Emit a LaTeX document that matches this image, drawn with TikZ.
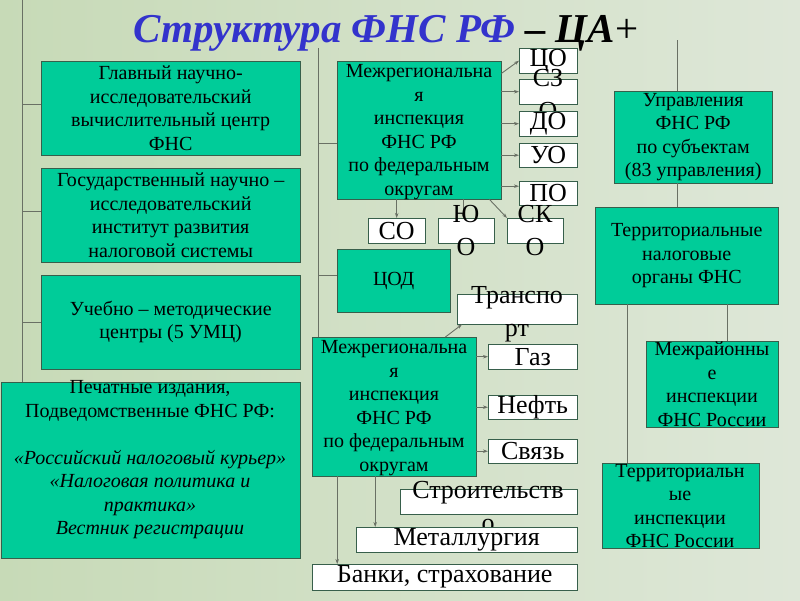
\documentclass[tikz,border=0pt]{standalone}
\usepackage{fontspec}
\setmainfont{Liberation Serif}
\usepackage{tikz}
\usepackage{xcolor}
\usetikzlibrary{arrows.meta,positioning}
\definecolor{bgleft}{RGB}{199,218,183}
\definecolor{bgright}{RGB}{222,231,216}
\definecolor{boxfill}{RGB}{0,204,153}
\definecolor{boxedge}{RGB}{55,95,75}
\definecolor{wire}{RGB}{105,112,100}
\definecolor{titleblue}{RGB}{51,51,204}

\tikzset{
  tbox/.style={draw=boxedge, fill=boxfill, inner sep=0pt, anchor=north west, align=center,
    font=\fontsize{20}{23.5}\selectfont},
  wbox/.style={draw=boxedge, fill=white, inner sep=0pt, anchor=north west,
    font=\fontsize{26}{33}\selectfont},
  ttext/.style={inner sep=0pt, align=center, font=\fontsize{20}{23.5}\selectfont},
  wtext/.style={inner sep=0pt, align=center, font=\fontsize{26}{33}\selectfont},
  link/.style={draw=wire, line width=0.9pt},
  arr/.style={link, -{Stealth[length=5pt,width=3.5pt]}},
}

\begin{document}
\begin{tikzpicture}[x=1pt,y=-1pt]
\shade[left color=bgleft, right color=bgright] (0,0) rectangle (800,600);
\useasboundingbox (0,0) rectangle (800,600);

% title
\node[font=\fontsize{41}{45}\selectfont\bfseries\itshape] (title) at (386,33)
  {\textcolor{titleblue}{Структура ФНС РФ} -- ЦА{\mdseries\upshape+}};

% trunks
\coordinate (ltop) at (22,0);
\coordinate (mtop) at (318,48);
\coordinate (rtop) at (677,40);

% left column
\node[tbox, minimum width=259pt, minimum height=94pt] (glav) at (41,61)
  {Главный научно-\\исследовательский\\вычислительный центр\\ФНС};
\node[tbox, minimum width=259pt, minimum height=94pt] (gosn) at (41,168)
  {Государственный научно --\\исследовательский\\институт развития\\налоговой системы};
\node[tbox, minimum width=259pt, minimum height=94pt] (umc) at (41,275)
  {Учебно -- методические\\центры (5 УМЦ)};
\node[tbox, minimum width=299pt, minimum height=176pt] (pech) at (1,382) {};
\node[ttext] (pecht) at (150,460)
  {Печатные издания,\\Подведомственные ФНС РФ:\\[23.5pt]
   \itshape «Российский налоговый курьер»\\\itshape «Налоговая политика и\\\itshape практика»\\\itshape Вестник регистрации};

\draw[link] (ltop) -- (ltop |- pech.north);
\draw[link] ([yshift=4pt]glav.west -| ltop) -- ([yshift=4pt]glav.west);
\draw[link] ([yshift=4pt]gosn.west -| ltop) -- ([yshift=4pt]gosn.west);
\draw[link] (umc.west -| ltop) -- (umc.west);

% middle column, first inspection
\node[tbox, minimum width=164pt, minimum height=138pt] (mri1) at (337,61) {};
\node[ttext] (mri1t) at (419,132)
  {Межрегиональна\\я\\инспекция\\ФНС РФ\\по федеральным\\округам};
\node[wbox, minimum width=58pt, minimum height=25pt] (co) at (519,48) {ЦО};
\node[wbox, minimum width=58pt, minimum height=25pt] (szo) at (519,79) {};
\node[wtext] (szot) at (548,95) {СЗ\\О};
\node[wbox, minimum width=58pt, minimum height=25pt] (do) at (519,111) {ДО};
\node[wbox, minimum width=58pt, minimum height=24pt] (uo) at (519,143) {УО};
\node[wbox, minimum width=58pt, minimum height=24pt] (po) at (519,181) {ПО};
\node[wbox, minimum width=57pt, minimum height=25pt] (so) at (368,218) {СО};
\node[wbox, minimum width=56pt, minimum height=25pt] (yuo) at (438,218) {};
\node[wbox, minimum width=56pt, minimum height=25pt] (sko) at (507,218) {};

\draw[link] (mtop) -- (mtop |- 0,337);
\draw[link] ([yshift=-13pt]mri1.west -| mtop) -- ([yshift=-13pt]mri1.west);
\draw[arr] (mri1.east |- co.south) -- (co.west);
\draw[arr] (mri1.east |- szo.west) -- (szo.west);
\draw[arr] (mri1.east |- do.west) -- (do.west);
\draw[arr] (mri1.east |- uo.west) -- (uo.west);
\draw[arr] ([yshift=7pt]mri1.east |- po.west) -- ([yshift=7pt]po.west);
\draw[arr] (so.north |- mri1.south) -- (so.north);
\draw[arr] ([xshift=-3pt]yuo.north |- mri1.south) -- ([xshift=-3pt]yuo.north);
\draw[arr] ([xshift=-12pt]mri1.south east) -- (sko.north west);
\node[wtext] (yuot) at (466,231) {Ю\\О};
\node[wtext] (skot) at (535,231) {СК\\О};

% ЦОД
\node[tbox, minimum width=113pt, minimum height=63pt] (cod) at (337,249) {ЦОД};
\draw[link] ([yshift=5pt]cod.west -| mtop) -- ([yshift=5pt]cod.west);

% middle column, second inspection
\node[wbox, minimum width=120pt, minimum height=30pt] (trans) at (457,294) {};
\node[wtext] (transt) at (517,314) {Транспо\\рт};
\node[tbox, minimum width=164pt, minimum height=139pt] (mri2) at (312,337) {};
\node[ttext] (mri2t) at (394,408)
  {Межрегиональна\\я\\инспекция\\ФНС РФ\\по федеральным\\округам};
\node[wbox, minimum width=89pt, minimum height=25pt] (gaz) at (488,344) {Газ};
\node[wbox, minimum width=89pt, minimum height=24pt] (neft) at (488,395) {Нефть};
\node[wbox, minimum width=89pt, minimum height=24pt] (svyaz) at (488,439) {Связь};
\node[wbox, minimum width=177pt, minimum height=25pt] (stroy) at (400,489) {};
\node[wtext] (stroyt) at (488,507) {Строительств\\о};
\node[wbox, minimum width=221pt, minimum height=25pt] (met) at (356,527) {Металлургия};
\node[wbox, minimum width=265pt, minimum height=26pt] (bank) at (312,564) {Банки, страхование};

\draw[arr] ([xshift=-31pt]mri2.north east) -- ([xshift=5pt]trans.south west);
\draw[arr] (mri2.east |- gaz.west) -- (gaz.west);
\draw[arr] (mri2.east |- neft.west) -- (neft.west);
\draw[arr] (mri2.east |- svyaz.west) -- (svyaz.west);
\draw[arr] ([xshift=-19pt]mri2.south) -- ([xshift=-19pt]mri2.south |- met.north);
\draw[arr] ([xshift=-57pt]mri2.south) -- ([xshift=-57pt]mri2.south |- bank.north);

% right column
\node[tbox, minimum width=158pt, minimum height=92pt] (upr) at (614,91)
  {Управления\\ФНС РФ\\по субъектам\\(83 управления)};
\node[tbox, minimum width=183pt, minimum height=97pt] (terr) at (595,207)
  {Территориальные\\налоговые\\органы ФНС};
\node[tbox, minimum width=132pt, minimum height=86pt] (mezh) at (646,341) {};
\node[ttext] (mezht) at (712,384) {Межрайонны\\е\\инспекции\\ФНС России};
\node[tbox, minimum width=157pt, minimum height=85pt] (terrin) at (602,463) {};
\node[ttext] (terrint) at (680,506) {Территориальн\\ые\\инспекции\\ФНС России};

\draw[link] (rtop) -- (rtop |- upr.north);
\draw[link] (rtop |- upr.south) -- (rtop |- terr.north);
\draw[link] ([xshift=15pt]mezh.north |- terr.south) -- ([xshift=15pt]mezh.north);
\draw[link] ([xshift=-53pt]terrin.north |- terr.south) -- ([xshift=-53pt]terrin.north);
\end{tikzpicture}
\end{document}
